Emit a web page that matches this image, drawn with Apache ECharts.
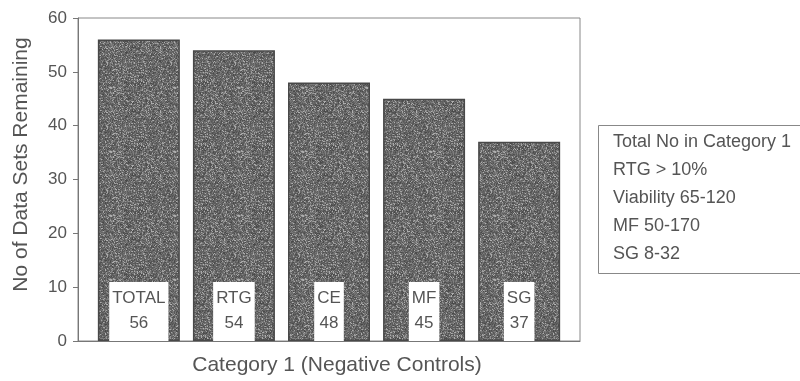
<!DOCTYPE html>
<html>
<head>
<meta charset="utf-8">
<script src="https://cdn.jsdelivr.net/npm/echarts@6/dist/echarts.min.js"></script>
<style>html,body{margin:0;padding:0;background:#fff}#c{width:800px;height:381px}</style>
</head>
<body>
<div id="c"></div>
<script>
const categories = ['TOTAL', 'RTG', 'CE', 'MF', 'SG'];
const values = [56, 54, 48, 45, 37];
const yMin = 0, yMax = 60, yStep = 10;
const xAxisTitle = 'Category 1 (Negative Controls)';
const yAxisTitle = 'No of Data Sets Remaining';
const legendLines = ['Total No in Category 1', 'RTG > 10%', 'Viability 65-120', 'MF 50-170', 'SG 8-32'];

// speckled grey texture for the bars (decoration only)
function makeTexture() {
  const c = document.createElement('canvas');
  c.width = 64; c.height = 64;
  const ctx = c.getContext('2d');
  ctx.fillStyle = '#666';
  ctx.fillRect(0, 0, 64, 64);
  let s = 12345;
  function rnd() { s = (s * 1103515245 + 12345) & 0x7fffffff; return s / 0x7fffffff; }
  for (let y = 0; y < 64; y++) {
    for (let x = 0; x < 64; x++) {
      const r = rnd();
      let g;
      if (r < 0.15) g = 140 + Math.floor(rnd() * 40);
      else if (r < 0.5) g = 105 + Math.floor(rnd() * 25);
      else if (r < 0.85) g = 88 + Math.floor(rnd() * 15);
      else g = 72 + Math.floor(rnd() * 15);
      ctx.fillStyle = 'rgb(' + g + ',' + g + ',' + g + ')';
      ctx.fillRect(x, y, 1, 1);
    }
  }
  return c;
}

const FONT = "'Liberation Sans', Arial, sans-serif";
const TXT = '#555';
const chart = echarts.init(document.getElementById('c'), null, { renderer: 'canvas' });
chart.setOption({
  animation: false,
  backgroundColor: '#fff',
  graphic: [{
    type: 'rect', silent: true,
    shape: { x: 598.5, y: 125.5, width: 260, height: 148 },
    style: { fill: '#fff', stroke: '#888', lineWidth: 1 }
  }, {
    type: 'text', x: 613, y: 128, silent: true,
    style: {
      text: legendLines.join('\n'),
      fill: TXT, fontSize: 18, fontFamily: FONT, lineHeight: 28
    }
  }],
  grid: { left: 78, right: 220, top: 18, bottom: 39, show: true, borderColor: '#888', borderWidth: 1, backgroundColor: 'transparent' },
  xAxis: {
    type: 'value', min: -0.64, max: categories.length - 1 + 0.64,
    axisLabel: { show: false }, axisTick: { show: false }, splitLine: { show: false },
    axisLine: { show: true, onZero: false, lineStyle: { color: '#777', width: 1 } },
    name: xAxisTitle, nameLocation: 'middle', nameGap: 14,
    nameTextStyle: { fontSize: 21, color: TXT, fontFamily: FONT, padding: [0, 0, 0, 16] }
  },
  yAxis: {
    type: 'value', min: yMin, max: yMax, interval: yStep,
    axisLine: { show: true, onZero: false, lineStyle: { color: '#777', width: 1 } },
    axisTick: { show: true, length: 5, lineStyle: { color: '#777' } },
    splitLine: { show: false },
    axisLabel: { fontSize: 17, color: TXT, fontFamily: FONT, margin: 11 },
    name: yAxisTitle, nameLocation: 'middle', nameGap: 46, nameRotate: 90,
    nameTextStyle: { fontSize: 21, color: TXT, fontFamily: FONT, padding: [0, 0, 0, 30] }
  },
  series: [{
    type: 'bar',
    barWidth: 82,
    data: values.map((v, i) => [i, v]),
    itemStyle: { color: { image: makeTexture(), repeat: 'repeat' }, borderColor: '#484848', borderWidth: 1.5 },
    label: {
      show: true, position: 'insideBottom', distance: 0,
      formatter: p => categories[p.dataIndex] + '\n' + p.value[1],
      backgroundColor: '#fff', padding: [4, 3, 5, 3],
      fontSize: 17, lineHeight: 25, color: TXT, fontFamily: FONT
    }
  }]
});
</script>
</body>
</html>
